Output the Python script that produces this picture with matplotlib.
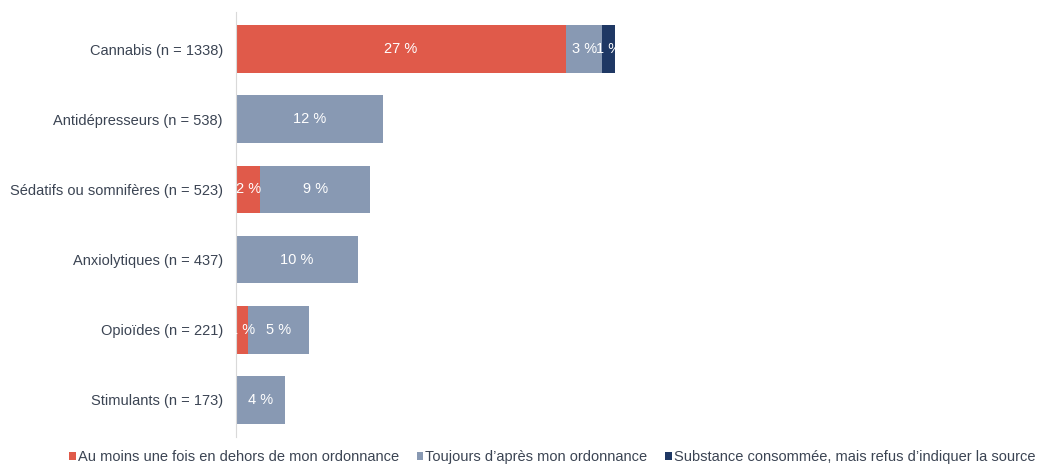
import matplotlib
matplotlib.use("Agg")
import matplotlib.pyplot as plt
import numpy as np

categories = ["Cannabis (n = 1338)", "Antidépresseurs (n = 538)",
              "Sédatifs ou somnifères (n = 523)", "Anxiolytiques (n = 437)",
              "Opioïdes (n = 221)", "Stimulants (n = 173)"]
series_names = ["Au moins une fois en dehors de mon ordonnance",
                "Toujours d’après mon ordonnance",
                "Substance consommée, mais refus d’indiquer la source"]
hors_ordonnance = [27, 0, 2, 0, 1, 0]
selon_ordonnance = [3, 12, 9, 10, 5, 4]
refus_source = [1, 0, 0, 0, 0, 0]
colors = ["#E05A4A", "#8899B3", "#1F3864"]
text_color = "#3B4453"

plt.rcParams['font.family'] = ['Liberation Sans', 'DejaVu Sans']

fig = plt.figure(figsize=(10.37, 4.70), dpi=100)
ax = fig.add_axes([236 / 1037, 33 / 470, (1030 - 236) / 1037, 425 / 470])

y = np.arange(len(categories))
left = np.zeros(len(categories))
for vals, name, col in zip([hors_ordonnance, selon_ordonnance, refus_source], series_names, colors):
    vals = np.array(vals, dtype=float)
    ax.barh(y, vals, left=left, height=0.68, color=col, label=name, edgecolor="none")
    for yi, v, l in zip(y, vals, left):
        if v > 0:
            ax.text(l + v / 2, yi, f"{v:.0f} %", ha="center", va="center",
                    color="white", fontsize=10.5)
    left += vals

ax.set_xlim(0, 65)
ax.set_ylim(len(categories) - 0.47, -0.53)
ax.set_yticks(y)
ax.set_yticklabels(categories, fontsize=10.5, color=text_color)
ax.tick_params(axis="y", length=0, pad=9.5)
ax.set_xticks([])
for s in ["top", "right", "bottom"]:
    ax.spines[s].set_visible(False)
ax.spines["left"].set_color("#D9D9D9")

leg = fig.legend(loc="lower right", bbox_to_anchor=(1.011, -0.016), ncol=3, frameon=False,
                 fontsize=10.5, handlelength=0.45, handleheight=0.5, handletextpad=0.15,
                 columnspacing=1.2, labelcolor=text_color)

fig.savefig("out.png", dpi=100)
